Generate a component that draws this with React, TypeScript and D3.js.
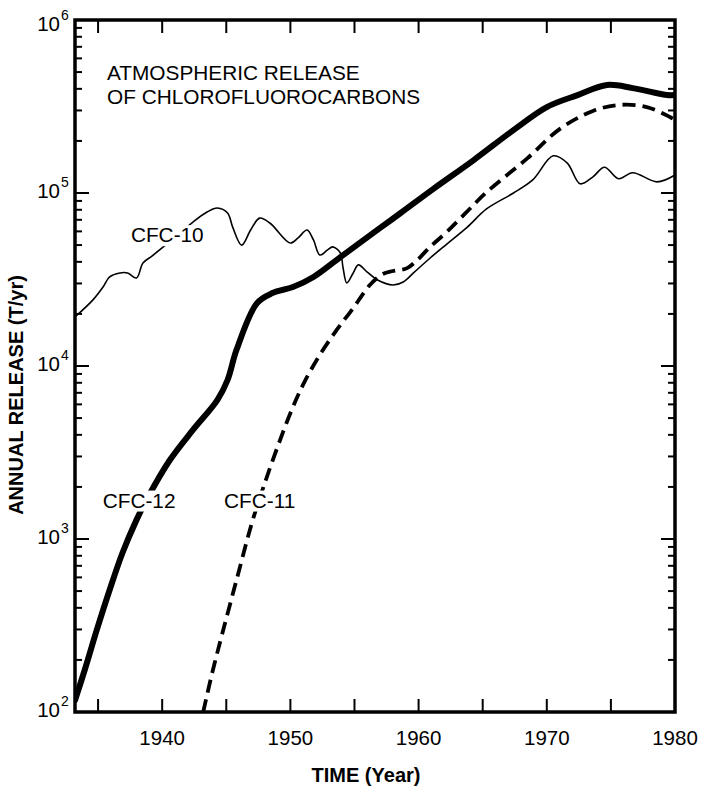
import React, { useEffect } from "react";
import * as d3 from "d3";

// ---- data ----
const YEARS_CFC12 = [1933.2, 1934.0, 1934.9, 1935.9, 1936.9, 1938.0, 1938.9, 1940.6, 1942.4, 1944.3, 1945.1, 1945.8, 1947.4, 1948.6, 1950.2, 1951.8, 1953.9, 1957.0, 1958.6, 1961.1, 1964.3, 1967.4, 1970.0, 1972.4, 1974.7, 1976.7, 1979.4, 1980.0];
const CFC12 = [117, 179, 298, 507, 830, 1290, 1750, 2860, 4270, 6350, 8300, 12400, 23100, 26400, 28600, 32700, 42600, 62800, 76600, 105000, 155000, 231000, 314000, 368000, 421000, 404000, 368000, 368000];

const YEARS_CFC11 = [1943.2, 1943.9, 1944.7, 1945.8, 1947.0, 1947.9, 1949.0, 1950.2, 1951.1, 1952.3, 1953.6, 1954.9, 1956.2, 1957.2, 1958.0, 1959.1, 1959.9, 1960.9, 1962.2, 1963.6, 1965.3, 1968.5, 1971.0, 1973.6, 1975.7, 1977.8, 1979.6, 1980.0];
const CFC11 = [100, 168, 286, 580, 1240, 2000, 3410, 5800, 8090, 11600, 16100, 21600, 29400, 34000, 35400, 36800, 41000, 48800, 59600, 75700, 101000, 159000, 234000, 298000, 323000, 314000, 275000, 264000];

const YEARS_CFC10 = [1933.2, 1934.6, 1935.4, 1935.9, 1936.7, 1937.3, 1938.0, 1938.5, 1939.2, 1939.8, 1941.5, 1942.4, 1943.5, 1944.3, 1945.1, 1945.5, 1946.2, 1946.9, 1947.6, 1948.4, 1950.0, 1950.6, 1951.3, 1951.8, 1952.3, 1952.9, 1953.3, 1953.9, 1954.1, 1954.4, 1954.9, 1955.3, 1956.0, 1956.8, 1958.0, 1958.8, 1959.6, 1960.9, 1962.2, 1963.8, 1965.3, 1967.4, 1968.9, 1970.5, 1971.6, 1972.6, 1973.6, 1974.5, 1975.6, 1976.7, 1978.6, 1980.0];
const CFC10 = [19200, 24100, 28700, 32700, 34500, 34500, 32300, 39400, 43200, 46900, 59600, 67900, 77600, 81900, 76600, 63500, 50000, 61100, 71600, 67100, 51400, 55000, 61100, 53500, 43800, 46900, 48800, 45000, 37300, 30200, 34500, 38400, 34900, 31400, 29400, 30600, 34500, 42100, 50700, 63500, 80900, 100000, 119000, 164000, 149000, 113000, 124000, 141000, 121000, 131000, 116000, 127000];

const X_TICKS = [1935, 1940, 1945, 1950, 1955, 1960, 1965, 1970, 1975];
const X_LABELS = [1940, 1950, 1960, 1970, 1980];
const Y_EXPONENTS = [2, 3, 4, 5, 6];

const TITLE_LINES = ["ATMOSPHERIC RELEASE", "OF CHLOROFLUOROCARBONS"];
const SERIES_LABELS = [
  { text: "CFC-10", year: 1940.4, value: 52000 },
  { text: "CFC-12", year: 1938.2, value: 1520 },
  { text: "CFC-11", year: 1947.6, value: 1520 },
];

const W = 701;
const H = 788;
const L = 75, R = 675, T = 20, B = 712;
const FONT = "'Liberation Sans', Arial, Helvetica, sans-serif";

export default function App() {
  useEffect(() => {
    document.body.style.margin = "0";
    document.body.style.overflow = "hidden";
  }, []);

  const x = d3.scaleLinear().domain([1933.2, 1980]).range([L, R]);
  const y = d3.scaleLog().domain([100, 1e6]).range([B, T]);

  const mk = (years: number[], vals: number[]) =>
    d3
      .line<number>()
      .x((_, i) => x(years[i]))
      .y((v) => y(v))
      .curve(d3.curveCatmullRom.alpha(0.5))(vals) || "";

  const minor: number[] = [];
  for (let e = 2; e < 6; e++) for (let m = 2; m <= 9; m++) minor.push(m * Math.pow(10, e));

  return (
    <svg width={W} height={H} style={{ position: "absolute", left: 0, top: 0, display: "block", background: "#fff" }} fontFamily={FONT}>
      <defs>
        <clipPath id="plot">
          <rect x={L} y={T} width={R - L} height={B - T} />
        </clipPath>
      </defs>

      {/* curves */}
      <g clipPath="url(#plot)" fill="none" stroke="#000" strokeLinejoin="round">
        <path d={mk(YEARS_CFC10, CFC10)} strokeWidth={1.6} />
        <path d={mk(YEARS_CFC11, CFC11)} strokeWidth={3.8} strokeDasharray="13 7" />
        <path d={mk(YEARS_CFC12, CFC12)} strokeWidth={6} strokeLinecap="round" />
      </g>

      {/* series labels with white knock-out */}
      {SERIES_LABELS.map((s) => {
        const cx = x(s.year);
        const cy = y(s.value);
        return (
          <g key={s.text}>
            <rect x={cx - 39} y={cy - 17} width={78} height={21} fill="#fff" />
            <text x={cx} y={cy} textAnchor="middle" fontSize={20.8}>
              {s.text}
            </text>
          </g>
        );
      })}

      {/* title */}
      {TITLE_LINES.map((t, i) => (
        <text key={t} x={107} y={80 + i * 24} fontSize={20.8}>
          {t}
        </text>
      ))}

      {/* ticks */}
      <g stroke="#000" strokeWidth={2}>
        {X_TICKS.map((yr) => (
          <g key={yr}>
            <line x1={x(yr)} x2={x(yr)} y1={B} y2={B - 13} />
            <line x1={x(yr)} x2={x(yr)} y1={T} y2={T + 13} />
          </g>
        ))}
        {Y_EXPONENTS.slice(1, -1).map((e) => (
          <g key={e}>
            <line x1={L} x2={L + 14} y1={y(Math.pow(10, e))} y2={y(Math.pow(10, e))} />
            <line x1={R} x2={R - 14} y1={y(Math.pow(10, e))} y2={y(Math.pow(10, e))} />
          </g>
        ))}
        {minor.map((v) => (
          <g key={v}>
            <line x1={L} x2={L + 7} y1={y(v)} y2={y(v)} />
            <line x1={R} x2={R - 7} y1={y(v)} y2={y(v)} />
          </g>
        ))}
      </g>

      {/* frame */}
      <rect x={L} y={T} width={R - L} height={B - T} fill="none" stroke="#000" strokeWidth={3.5} />

      {/* x tick labels */}
      {X_LABELS.map((yr) => (
        <text key={yr} x={x(yr)} y={745} textAnchor="middle" fontSize={20.5}>
          {yr}
        </text>
      ))}

      {/* y tick labels */}
      {Y_EXPONENTS.map((e) => {
        const ty = y(Math.pow(10, e));
        const base = Math.max(ty + 5, 31);
        return (
          <g key={e}>
            <text x={60} y={base} textAnchor="end" fontSize={20.5}>
              10
            </text>
            <text x={61} y={base - 11} fontSize={14}>
              {e}
            </text>
          </g>
        );
      })}

      {/* axis titles */}
      <text x={366} y={782} textAnchor="middle" fontSize={20} fontWeight="bold">
        TIME (Year)
      </text>
      <text
        transform={`translate(23, ${395}) rotate(-90)`}
        textAnchor="middle"
        fontSize={20}
        fontWeight="bold"
      >
        ANNUAL RELEASE (T/yr)
      </text>
    </svg>
  );
}
